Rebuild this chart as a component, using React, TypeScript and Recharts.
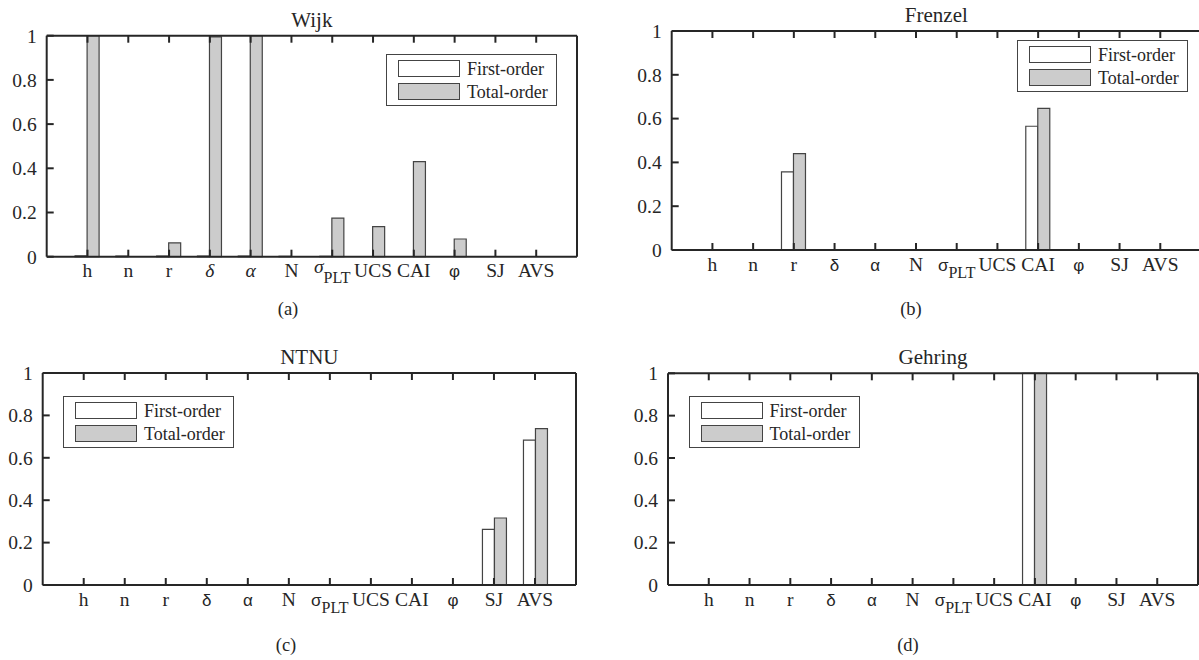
import React from "react";
import { BarChart, Bar, XAxis, YAxis, Legend } from "recharts";

// parameters on the x axis (σ_PLT gets a subscript)
const categories = ["h", "n", "r", "δ", "α", "N", "σ_PLT", "UCS", "CAI", "φ", "SJ", "AVS"];
const yTicks = [0, 0.2, 0.4, 0.6, 0.8, 1];

const wijkFirst = [0.004, 0.003, 0.003, 0.003, 0.003, 0.002, 0.002, 0, 0, 0, 0, 0];
const wijkTotal = [1.0, 0, 0.063, 0.995, 1.0, 0, 0.175, 0.136, 0.43, 0.08, 0, 0];

const frenzelFirst = [0, 0, 0.357, 0, 0, 0, 0, 0, 0.565, 0, 0, 0];
const frenzelTotal = [0, 0, 0.44, 0, 0, 0, 0, 0, 0.647, 0, 0, 0];

const ntnuFirst = [0, 0, 0, 0, 0, 0, 0, 0, 0, 0, 0.262, 0.683];
const ntnuTotal = [0, 0, 0, 0, 0, 0, 0, 0, 0, 0, 0.316, 0.738];

const gehringFirst = [0, 0, 0, 0, 0, 0, 0, 0, 1.0, 0, 0, 0];
const gehringTotal = [0, 0, 0, 0, 0, 0, 0, 0, 1.0, 0, 0, 0];

const SERIF = '"Liberation Serif", "Times New Roman", serif';
const SANS = '"Liberation Sans", Arial, sans-serif';
const INK = "#262626";
const EDGE = "#444";

const YW = 40; // left y axis width
const XH = 40; // bottom x axis height
const TH = 2; // top mirror axis
const RW = 2; // right mirror axis
const TICK = 7; // inward tick length
const TW = 2; // tick stroke
const XM = 7; // gap axis -> x tick label top
const YM = 10; // gap axis -> y tick label end

// MATLAB-style ticks point into the box, so each tick draws its own mark
function XTick(props: any) {
  const { x, y, payload, italicGreek } = props;
  const axisY = y - XM;
  const [base, sub] = String(payload.value).split("_");
  const greek = /[\u0370-\u03ff]/.test(base);
  const italic = italicGreek && greek && base !== "φ";
  const sans = greek && !italic;
  return (
    <g>
      <line x1={x} x2={x} y1={axisY} y2={axisY - TICK} stroke={INK} strokeWidth={TW} />
      <text x={x} y={y + 13.5} textAnchor="middle" fill={INK} fontFamily={SERIF} fontSize={19.5}>
        <tspan
          fontFamily={sans ? SANS : SERIF}
          fontStyle={italic ? "italic" : "normal"}
          fontSize={sans ? 17 : 19.5}
          dy={italic && sub ? -4 : 0}
        >
          {base}
        </tspan>
        {sub && (
          <tspan fontFamily={SERIF} fontSize={16} dy={italic ? 10 : 7}>
            {sub}
          </tspan>
        )}
      </text>
    </g>
  );
}

function TopTick({ x, y }: any) {
  return <line x1={x} x2={x} y1={y} y2={y + TICK} stroke={INK} strokeWidth={TW} />;
}

function YTick({ x, y, payload }: any) {
  const axisX = x + YM;
  return (
    <g>
      <line x1={axisX} x2={axisX + TICK} y1={y} y2={y} stroke={INK} strokeWidth={TW} />
      <text x={x} y={y} dy="0.35em" textAnchor="end" fill={INK} fontFamily={SERIF} fontSize={19.5}>
        {String(payload.value)}
      </text>
    </g>
  );
}

function RightTick({ x, y }: any) {
  return <line x1={x} x2={x - TICK} y1={y} y2={y} stroke={INK} strokeWidth={TW} />;
}

function BoxLegend({ payload }: any) {
  return (
    <div
      style={{
        width: 171,
        height: 52,
        boxSizing: "border-box",
        background: "#fff",
        border: `1px solid ${EDGE}`,
        padding: "2px 0 2px 11px",
        fontFamily: SERIF,
        fontSize: 18,
        color: INK,
      }}
    >
      {(payload || []).map((e: any) => (
        <div key={e.value} style={{ display: "flex", alignItems: "center", height: 23 }}>
          <span
            style={{
              display: "inline-block",
              width: 62,
              height: 17,
              boxSizing: "border-box",
              background: e.color,
              border: `1px solid ${EDGE}`,
              marginRight: 7,
            }}
          />
          <span style={{ lineHeight: "18px" }}>{e.value}</span>
        </div>
      ))}
    </div>
  );
}

const panels = [
  {
    title: "Wijk", caption: "(a)", first: wijkFirst, total: wijkTotal, italicGreek: true,
    origin: { x: 0, y: 0 }, size: { w: 600, h: 330 },
    box: { L: 46.7, R: 577, T: 35.7, B: 256.7 }, legendAt: { x: 386, y: 54 },
    captionAt: { x: 288, y: 315 },
  },
  {
    title: "Frenzel", caption: "(b)", first: frenzelFirst, total: frenzelTotal, italicGreek: false,
    origin: { x: 600, y: 0 }, size: { w: 620, h: 330 },
    box: { L: 671.7, R: 1201, T: 31, B: 250 }, legendAt: { x: 1017, y: 40 },
    captionAt: { x: 911, y: 315 },
  },
  {
    title: "NTNU", caption: "(c)", first: ntnuFirst, total: ntnuTotal, italicGreek: false,
    origin: { x: 0, y: 330 }, size: { w: 600, h: 330 },
    box: { L: 42.7, R: 576, T: 373, B: 585 }, legendAt: { x: 63, y: 396 },
    captionAt: { x: 286, y: 651 },
  },
  {
    title: "Gehring", caption: "(d)", first: gehringFirst, total: gehringTotal, italicGreek: false,
    origin: { x: 600, y: 330 }, size: { w: 620, h: 330 },
    box: { L: 668, R: 1198, T: 373.3, B: 585 }, legendAt: { x: 688.5, y: 396 },
    captionAt: { x: 908, y: 651 },
  },
];

function Panel({ p }: { p: (typeof panels)[number] }) {
  const { box, origin, size } = p;
  const data = categories.map((c, i) => ({ cat: c, first: p.first[i], total: p.total[i] }));
  const pad = (box.R - box.L) / 26; // MATLAB xlim [0 13]
  const margin = {
    left: box.L - origin.x - YW,
    right: origin.x + size.w - box.R - RW,
    top: box.T - origin.y - TH,
    bottom: origin.y + size.h - box.B - XH,
  };
  const axisLine = { stroke: INK, strokeWidth: 2 };
  const titleSize = 21;
  const capSize = 18.5;
  return (
    <>
      <div
        style={{
          position: "absolute",
          left: box.L,
          width: box.R - box.L,
          top: box.T - 8.5 - titleSize * 0.8375,
          textAlign: "center",
          fontFamily: SERIF,
          fontSize: titleSize,
          lineHeight: `${titleSize}px`,
          color: INK,
        }}
      >
        {p.title}
      </div>
      <div style={{ position: "absolute", left: origin.x, top: origin.y }}>
        <BarChart width={size.w} height={size.h} data={data} margin={margin} barSize={12} barGap={0}>
          <XAxis
            dataKey="cat"
            height={XH}
            interval={0}
            padding={{ left: pad, right: pad }}
            axisLine={axisLine}
            tickLine={false}
            tickSize={0}
            tickMargin={XM}
            tick={<XTick italicGreek={p.italicGreek} />}
          />
          <XAxis
            xAxisId="top"
            dataKey="cat"
            orientation="top"
            height={TH}
            interval={0}
            padding={{ left: pad, right: pad }}
            axisLine={axisLine}
            tickLine={false}
            tickSize={0}
            tickMargin={0}
            tick={<TopTick />}
          />
          <YAxis
            type="number"
            domain={[0, 1]}
            ticks={yTicks}
            interval={0}
            width={YW}
            axisLine={axisLine}
            tickLine={false}
            tickSize={0}
            tickMargin={YM}
            tick={<YTick />}
          />
          <YAxis
            yAxisId="right"
            orientation="right"
            type="number"
            domain={[0, 1]}
            ticks={yTicks}
            interval={0}
            width={RW}
            axisLine={axisLine}
            tickLine={false}
            tickSize={0}
            tickMargin={0}
            tick={<RightTick />}
          />
          <Legend
            layout="horizontal"
            verticalAlign="middle"
            align="center"
            content={<BoxLegend />}
            wrapperStyle={{ left: p.legendAt.x - origin.x, top: p.legendAt.y - origin.y, width: "auto" }}
          />
          <Bar dataKey="first" name="First-order" fill="#ffffff" stroke={EDGE} strokeWidth={1.2} isAnimationActive={false} />
          <Bar dataKey="total" name="Total-order" fill="#cccccc" stroke={EDGE} strokeWidth={1.2} isAnimationActive={false} />
        </BarChart>
      </div>
      <div
        style={{
          position: "absolute",
          left: p.captionAt.x - 50,
          width: 100,
          top: p.captionAt.y - capSize * 0.8375,
          textAlign: "center",
          fontFamily: SERIF,
          fontSize: capSize,
          lineHeight: `${capSize}px`,
          color: INK,
        }}
      >
        {p.caption}
      </div>
    </>
  );
}

export default function App() {
  return (
    <div
      style={{
        position: "absolute",
        left: 0,
        top: 0,
        width: 1199,
        height: 660,
        overflow: "hidden",
        background: "#fff",
      }}
    >
      {panels.map((p) => (
        <Panel key={p.title} p={p} />
      ))}
    </div>
  );
}
